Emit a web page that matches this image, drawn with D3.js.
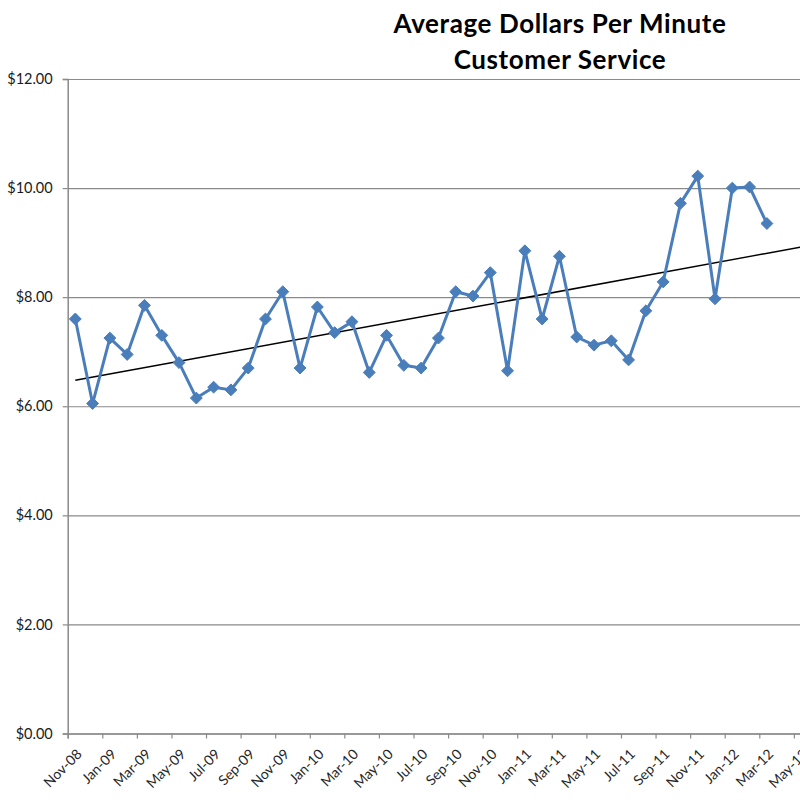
<!DOCTYPE html>
<html>
<head>
<meta charset="utf-8">
<script src="https://cdn.jsdelivr.net/npm/d3@7"></script>
<style>
    body { margin: 0; background: #fff; }
    svg { display: block; }
</style>
</head>
<body>
<svg id="chart" width="800" height="802"></svg>
<script>
// monthly categories that carry a value
const months = [
    "Nov-08", "Dec-08", "Jan-09", "Feb-09", "Mar-09", "Apr-09", "May-09", "Jun-09",
    "Jul-09", "Aug-09", "Sep-09", "Oct-09", "Nov-09", "Dec-09", "Jan-10", "Feb-10",
    "Mar-10", "Apr-10", "May-10", "Jun-10", "Jul-10", "Aug-10", "Sep-10", "Oct-10",
    "Nov-10", "Dec-10", "Jan-11", "Feb-11", "Mar-11", "Apr-11", "May-11", "Jun-11",
    "Jul-11", "Aug-11", "Sep-11", "Oct-11", "Nov-11", "Dec-11", "Jan-12", "Feb-12",
    "Mar-12"
];

// months on the axis after the last value
const extraMonths = ["Apr-12", "May-12", "Jun-12"];

const dollarsPerMinute = [
    7.60, 6.05, 7.25, 6.95, 7.85, 7.30, 6.80, 6.15,
    6.35, 6.30, 6.70, 7.60, 8.10, 6.70, 7.82, 7.35,
    7.55, 6.62, 7.30, 6.75, 6.70, 7.25, 8.10, 8.02,
    8.45, 6.65, 8.85, 7.60, 8.75, 7.27, 7.12, 7.20,
    6.85, 7.75, 8.28, 9.72, 10.22, 7.97, 10.00, 10.02,
    9.35
];

const tickLabels = [
    "Nov-08", "Jan-09", "Mar-09", "May-09", "Jul-09", "Sep-09", "Nov-09", "Jan-10",
    "Mar-10", "May-10", "Jul-10", "Sep-10", "Nov-10", "Jan-11", "Mar-11", "May-11",
    "Jul-11", "Sep-11", "Nov-11", "Jan-12", "Mar-12", "May-12"
];

const yTicks = [0, 2, 4, 6, 8, 10, 12];

const titleLines = ["Average Dollars Per Minute", "Customer Service"];

const axisMonths = months.concat(extraMonths);

const plotLeft = 67.7;
const step = 17.29;
const plotTop = 79;
const plotBottom = 733.5;
const plotRight = plotLeft + step * axisMonths.length;
const pointOffset = 0.44;

const svg = d3.select("#chart");
const font = "Lato, 'Open Sans', sans-serif";

const x = d3.scaleLinear()
    .domain([0, axisMonths.length])
    .range([plotLeft, plotRight]);

const y = d3.scaleLinear()
    .domain([0, 12])
    .range([plotBottom, plotTop]);

// gridlines
svg.append("g")
    .attr("transform", `translate(${plotLeft}, 0)`)
    .call(d3.axisLeft(y).tickValues(yTicks).tickSize(-(plotRight - plotLeft)).tickFormat(""))
    .call(g => g.select(".domain").remove())
    .call(g => g.selectAll("line").attr("stroke", "#8a8a8a").attr("stroke-width", 1.2));

// y axis
svg.append("g")
    .attr("transform", `translate(${plotLeft}, 0)`)
    .call(d3.axisLeft(y).tickValues(yTicks).tickSize(5).tickPadding(10).tickFormat(d3.format("$.2f")))
    .call(g => g.select(".domain").attr("stroke", "#8a8a8a").attr("stroke-width", 1.5))
    .call(g => g.selectAll("line").attr("stroke", "#8a8a8a").attr("stroke-width", 1.2))
    .call(g => g.selectAll("text")
        .attr("font-family", font)
        .attr("font-size", 14.5)
        .attr("fill", "#1a1a1a"));

// x axis
svg.append("g")
    .attr("transform", `translate(0, ${plotBottom})`)
    .call(d3.axisBottom(x)
        .tickValues(tickLabels.map(function (d) { return axisMonths.indexOf(d); }))
        .tickSize(5)
        .tickFormat(function (i) { return axisMonths[i]; }))
    .call(g => g.select(".domain").attr("stroke", "#8a8a8a").attr("stroke-width", 1.5))
    .call(g => g.selectAll("line").attr("stroke", "#8a8a8a").attr("stroke-width", 1.2))
    .call(g => g.selectAll("text")
        .attr("font-family", font)
        .attr("font-size", 14)
        .attr("fill", "#262626")
        .attr("text-anchor", "end")
        .attr("x", 0)
        .attr("y", 0)
        .attr("dy", "0.35em")
        .attr("transform", "translate(11, 18) rotate(-45)"));

const points = months.map(function (m, i) {
    return { month: m, index: i, value: dollarsPerMinute[i] };
});

// linear trend (least squares)
const meanX = d3.mean(points, function (d) { return d.index; });
const meanY = d3.mean(points, function (d) { return d.value; });
const slope = d3.sum(points, function (d) { return (d.index - meanX) * (d.value - meanY); }) /
    d3.sum(points, function (d) { return (d.index - meanX) * (d.index - meanX); });
const intercept = meanY - slope * meanX;
const trendEnd = axisMonths.length - pointOffset;

svg.append("line")
    .attr("x1", x(pointOffset))
    .attr("y1", y(intercept))
    .attr("x2", x(trendEnd + pointOffset))
    .attr("y2", y(intercept + slope * trendEnd))
    .attr("stroke", "#000")
    .attr("stroke-width", 1.5);

// series line
svg.append("path")
    .datum(points)
    .attr("fill", "none")
    .attr("stroke", "#4a7ebb")
    .attr("stroke-width", 3)
    .attr("stroke-linejoin", "round")
    .attr("d", d3.line()
        .x(function (d) { return x(d.index + pointOffset); })
        .y(function (d) { return y(d.value); }));

// diamond markers
svg.append("g")
    .selectAll("path")
    .data(points)
    .join("path")
    .attr("transform", function (d) { return `translate(${x(d.index + pointOffset)}, ${y(d.value)})`; })
    .attr("d", d3.symbol().type(d3.symbolDiamond2).size(90))
    .attr("fill", "#4a7ebb")
    .attr("stroke", "#4a7ebb")
    .attr("stroke-width", 1);

// title
svg.append("g")
    .selectAll("text")
    .data(titleLines)
    .join("text")
    .attr("x", 560)
    .attr("y", function (d, i) { return 33 + i * 36; })
    .attr("text-anchor", "middle")
    .attr("font-family", font)
    .attr("font-weight", "bold")
    .attr("font-size", 26)
    .attr("letter-spacing", 0.6)
    .attr("fill", "#000")
    .text(function (d) { return d; });
</script>
</body>
</html>
